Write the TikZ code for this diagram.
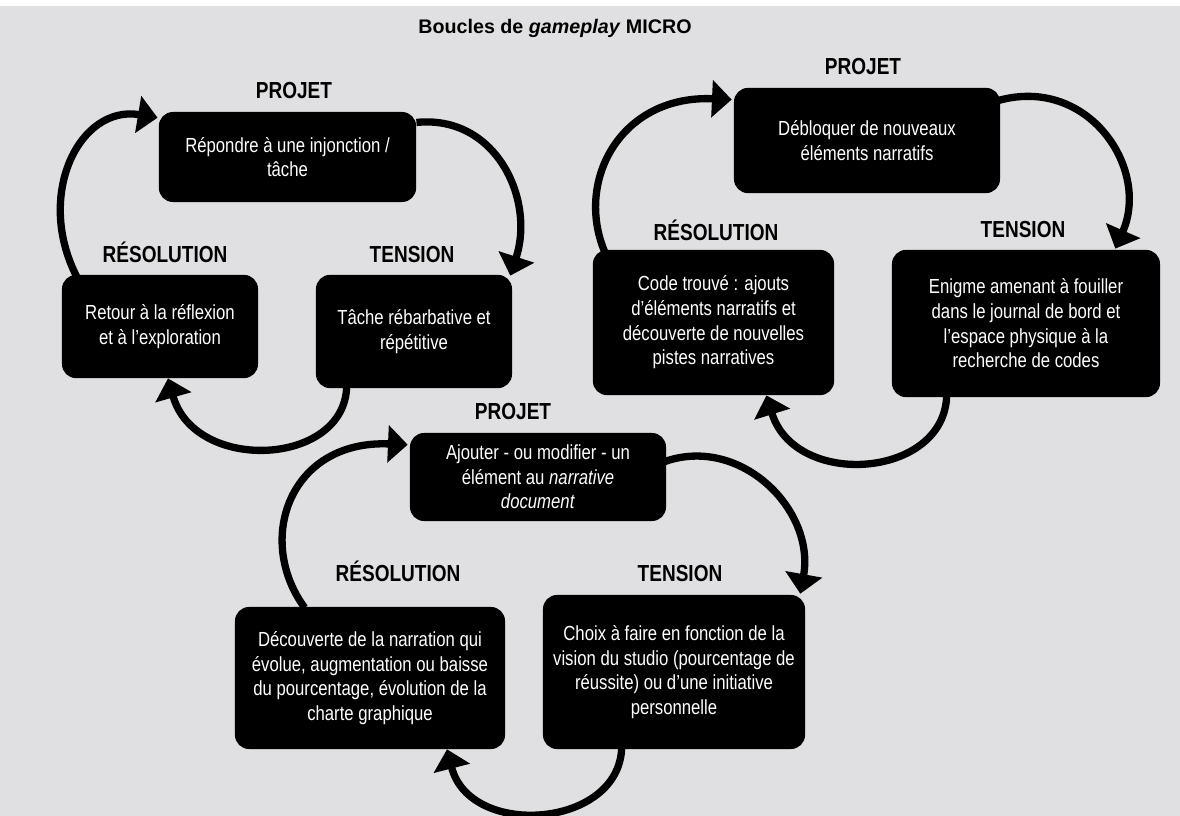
\documentclass[tikz,border=0pt]{standalone}
\usepackage{fontspec}
\setmainfont{Liberation Sans}[FakeStretch=0.82]
\newfontfamily\titlefont{Liberation Sans}
\usepackage{tikz}
\usetikzlibrary{arrows.meta, calc}
\definecolor{papier}{RGB}{224,224,226}

\tikzset{
  etape/.style={fill=black, text=white, rounded corners=10pt, align=center,
                font=\fontsize{14.5}{17.5}\selectfont, inner sep=4pt},
  phase/.style={anchor=base, font=\bfseries\fontsize{16.5}{19}\selectfont},
  boucle/.style={line width=5.2pt, -{Triangle[length=14pt, width=26pt]}},
}

\begin{document}
\begin{tikzpicture}[x=0.025cm, y=-0.025cm]
  \useasboundingbox (0,0) rectangle (1180,816);
  \fill[papier] (0,6) rectangle (1180,816);

  \node[anchor=base, font=\titlefont\bfseries\fontsize{14}{17}\selectfont] (titre)
    at (555,33) {Boucles de \textit{gameplay} MICRO};

  %% ─── Phase labels ─────────────────────────────────────────────────────────
  \foreach \i/\xp/\yp in {1/294/98, 2/863/74, 3/513/419}
    \node[phase] (lblP\i) at (\xp,\yp) {PROJET};
  \foreach \i/\xp/\yp in {1/165/262, 2/716/240, 3/398/581}
    \node[phase] (lblR\i) at (\xp,\yp) {RÉSOLUTION};
  \foreach \i/\xp/\yp in {1/412/262, 2/1023/237, 3/680/581}
    \node[phase] (lblT\i) at (\xp,\yp) {TENSION};

  %% ─── Loop 1 (top left) ────────────────────────────────────────────────────
  \node[etape, minimum width=6.43cm, minimum height=2.25cm] (proj1) at (287.5,157)
    {Répondre à une injonction /\\tâche};
  \node[etape, minimum width=4.9cm, minimum height=2.58cm] (reso1) at (160,326.5)
    {Retour à la réflexion\\et à l’exploration};
  \node[etape, minimum width=4.9cm, minimum height=2.83cm] (tens1) at (414,331.5)
    {Tâche rébarbative et\\répétitive};

  \draw[boucle] (proj1.15) .. controls +(79,-8) and +(25,-77)
    .. ($(tens1.north east)+(-2,1)$);
  \draw[boucle] ($(tens1.south west)+(31,-2)$) .. controls +(-2,80) and +(27,95)
    .. ($(reso1.south)+(8,0)$);
  \draw[boucle] ($(reso1.north west)+(15,2)$) .. controls +(-42,-82) and +(-78,-13)
    .. ($(proj1.north west)+(-1,6)$);

  %% ─── Loop 2 (top right) ───────────────────────────────────────────────────
  \node[etape, minimum width=6.65cm, minimum height=2.63cm] (proj2) at (867,140.5)
    {Débloquer de nouveaux\\éléments narratifs};
  \node[etape, minimum width=6.03cm, minimum height=3.63cm] (reso2) at (713.5,322.5)
    {Code trouvé : ajouts\\d’éléments narratifs et\\découverte de nouvelles\\pistes narratives};
  \node[etape, minimum width=6.7cm, minimum height=3.68cm] (tens2) at (1026,323.5)
    {Enigme amenant à fouiller\\dans le journal de bord et\\l’espace physique à la\\recherche de codes};

  \draw[boucle] ($(proj2.east)+(-2,-40)$) .. controls +(90,-25) and +(35,-80)
    .. ($(tens2.north east)+(-45,-1)$);
  \draw[boucle] ($(tens2.south west)+(55,-2)$) .. controls +(-2,83) and +(29,94)
    .. ($(reso2.south east)+(-68,0)$);
  \draw[boucle] ($(reso2.north west)+(12,2)$) .. controls +(-30,-72) and +(-110,-5)
    .. ($(proj2.north west)+(-2,12)$);

  %% ─── Loop 3 (bottom) ──────────────────────────────────────────────────────
  \node[etape, minimum width=6.4cm, minimum height=2.2cm] (proj3) at (538,477)
    {Ajouter - ou modifier - un\\élément au \textit{narrative}\\\textit{document}};
  \node[etape, minimum width=6.75cm, minimum height=3.55cm] (reso3) at (370,678)
    {Découverte de la narration qui\\évolue, augmentation ou baisse\\du pourcentage, évolution de la\\charte graphique};
  \node[etape, minimum width=6.55cm, minimum height=3.85cm] (tens3) at (674,672)
    {Choix à faire en fonction de la\\vision du studio (pourcentage de\\réussite) ou d’une initiative\\personnelle};

  \draw[boucle] ($(proj3.north east)+(-2,29)$) .. controls +(76,-27) and +(15,-84)
    .. ($(tens3.north east)+(-5,-1)$);
  \draw[boucle] ($(tens3.south west)+(79,-2)$) .. controls +(-2,81) and +(23,90)
    .. ($(reso3.south)+(77,0)$);
  \draw[boucle] ($(reso3.north west)+(70,1)$) .. controls +(-50,-68) and +(-118,-5)
    .. ($(proj3.north west)+(-2,12)$);
\end{tikzpicture}
\end{document}
